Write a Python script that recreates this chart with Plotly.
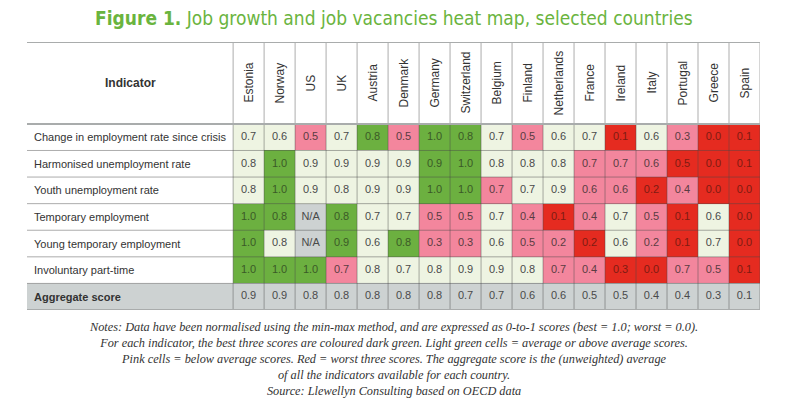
import plotly.graph_objects as go

countries = ["Estonia", "Norway", "US", "UK", "Austria", "Denmark", "Germany", "Switzerland",
             "Belgium", "Finland", "Netherlands", "France", "Ireland", "Italy", "Portugal",
             "Greece", "Spain"]

indicators = ["Change in employment rate since crisis", "Harmonised unemployment rate",
              "Youth unemployment rate", "Temporary employment", "Young temporary employment",
              "Involuntary part-time", "Aggregate score"]

# scores per indicator (None = N/A)
change_emp = [0.7, 0.6, 0.5, 0.7, 0.8, 0.5, 1.0, 0.8, 0.7, 0.5, 0.6, 0.7, 0.1, 0.6, 0.3, 0.0, 0.1]
harm_unemp = [0.8, 1.0, 0.9, 0.9, 0.9, 0.9, 0.9, 1.0, 0.8, 0.8, 0.8, 0.7, 0.7, 0.6, 0.5, 0.0, 0.1]
youth_unemp = [0.8, 1.0, 0.9, 0.8, 0.9, 0.9, 1.0, 1.0, 0.7, 0.7, 0.9, 0.6, 0.6, 0.2, 0.4, 0.0, 0.0]
temp_emp = [1.0, 0.8, None, 0.8, 0.7, 0.7, 0.5, 0.5, 0.7, 0.4, 0.1, 0.4, 0.7, 0.5, 0.1, 0.6, 0.0]
young_temp = [1.0, 0.8, None, 0.9, 0.6, 0.8, 0.3, 0.3, 0.6, 0.5, 0.2, 0.2, 0.6, 0.2, 0.1, 0.7, 0.0]
invol_pt = [1.0, 1.0, 1.0, 0.7, 0.8, 0.7, 0.8, 0.9, 0.9, 0.8, 0.7, 0.4, 0.3, 0.0, 0.7, 0.5, 0.1]
aggregate = [0.9, 0.9, 0.8, 0.8, 0.8, 0.8, 0.8, 0.7, 0.7, 0.6, 0.6, 0.5, 0.5, 0.4, 0.4, 0.3, 0.1]

# colour class per cell: G dark green, L light green, P pink, R red, N grey
change_cls = "LLPLGPGGLPLLRLPRR"
harm_cls = "LGLLLLGGLLLPPPRRR"
youth_cls = "LGLLLLGGPLLPPRPRR"
temp_cls = "GGNGLLPPLPRPLPRLR"
young_cls = "GLNGLGPPLPPRLPRLR"
invol_cls = "GGGPLLLLLLPPRRPPR"
agg_cls = "NNNNNNNNNNNNNNNNN"

values = [change_emp, harm_unemp, youth_unemp, temp_emp, young_temp, invol_pt, aggregate]
classes = [change_cls, harm_cls, youth_cls, temp_cls, young_cls, invol_cls, agg_cls]

notes = ("Notes: Data have been normalised using the min-max method, and are expressed as 0-to-1 scores (best = 1.0; worst = 0.0).<br>"
         "For each indicator, the best three scores are coloured dark green. Light green cells = average or above average scores.<br>"
         "Pink cells = below average scores. Red = worst three scores. The aggregate score is the (unweighted) average<br>"
         "of all the indicators available for each country.<br>"
         "Source: Llewellyn Consulting based on OECD data")

code = {"G": 0, "L": 1, "P": 2, "R": 3, "N": 4}
fills = ["#6cb040", "#eef4e2", "#f3869d", "#e52b20", "#cdd2d2"]
inks = {"G": "#3b5a27", "L": "#4a4a4a", "P": "#5a3c42", "R": "#7e1b12", "N": "#4a4a4a"}
sans = "Liberation Sans, Arial, sans-serif"

n_c = len(countries)
n_r = len(indicators)
label_left = -7.15
head_top = -3.58

z = [[code[c] for c in row] for row in classes]
scale = []
for k, col in enumerate(fills):
    scale.append([k / 5, col])
    scale.append([(k + 1) / 5, col])

fig = go.Figure()
fig.add_trace(go.Heatmap(
    z=z, x=list(range(n_c)), y=list(range(n_r)),
    colorscale=scale, zmin=-0.5, zmax=4.5, showscale=False, hoverinfo="skip"
))

tx, ty, tt, tc = [], [], [], []
for i, row in enumerate(values):
    for j, v in enumerate(row):
        tx.append(j)
        ty.append(i)
        tt.append("N/A" if v is None else f"{v:.1f}")
        tc.append(inks[classes[i][j]])
fig.add_trace(go.Scatter(
    x=tx, y=ty, text=tt, mode="text", hoverinfo="skip",
    textfont=dict(family=sans, size=11, color=tc)
))

# grey background behind "Aggregate score" label
fig.add_shape(type="rect", x0=label_left, x1=-0.5, y0=n_r - 1.5, y1=n_r - 0.5,
              fillcolor=fills[4], line_width=0, layer="below")

grid = "rgba(70,70,70,0.45)"
for k in range(1, n_r):
    fig.add_shape(type="line", x0=label_left, x1=n_c - 0.5, y0=k - 0.5, y1=k - 0.5,
                  line=dict(color=grid, width=1))
for j in range(n_c + 1):
    fig.add_shape(type="line", x0=j - 0.5, x1=j - 0.5, y0=head_top, y1=n_r - 0.5,
                  line=dict(color=grid, width=1))
for yy in [head_top, -0.5, n_r - 0.5]:
    fig.add_shape(type="line", x0=label_left, x1=n_c - 0.5, y0=yy, y1=yy,
                  line=dict(color="#a9acac", width=2))

for j, name in enumerate(countries):
    fig.add_annotation(x=j, y=(head_top - 0.5) / 2, text=name, textangle=-90, showarrow=False,
                       font=dict(family=sans, size=12, color="#333"))
fig.add_annotation(x=(label_left - 0.5) / 2, y=(head_top - 0.5) / 2, text="<b>Indicator</b>",
                   showarrow=False, font=dict(family=sans, size=12, color="#333"))
for i, name in enumerate(indicators):
    txt = f"<b>{name}</b>" if i == n_r - 1 else name
    fig.add_annotation(x=label_left + 0.15, y=i, text=txt, xanchor="left", showarrow=False,
                       font=dict(family=sans, size=11, color="#333"))

fig.add_annotation(xref="paper", yref="paper", x=0.5, y=1, yshift=24, yanchor="middle",
                   showarrow=False,
                   text="<b>Figure 1.</b> Job growth and job vacancies heat map, selected countries",
                   font=dict(family="Liberation Sans Narrow, DejaVu Sans Condensed, sans-serif",
                             size=19, color="#6ab43e"))
fig.add_annotation(xref="paper", yref="paper", x=0.5, y=0, yshift=-8, yanchor="top",
                   showarrow=False, align="center", text=f"<i>{notes}</i>",
                   font=dict(family="Liberation Serif, DejaVu Serif, serif", size=12.3, color="#333"))

fig.update_xaxes(range=[label_left, n_c - 0.5], visible=False, fixedrange=True)
fig.update_yaxes(range=[n_r - 0.5, head_top], visible=False, fixedrange=True)
# page body keeps an 8px margin, so the figure is 8px smaller than the window
fig.update_layout(
    width=792, height=394,
    margin=dict(l=19, r=40, t=34, b=92),
    paper_bgcolor="white", plot_bgcolor="white",
    showlegend=False
)

fig.write_html("out.html")
